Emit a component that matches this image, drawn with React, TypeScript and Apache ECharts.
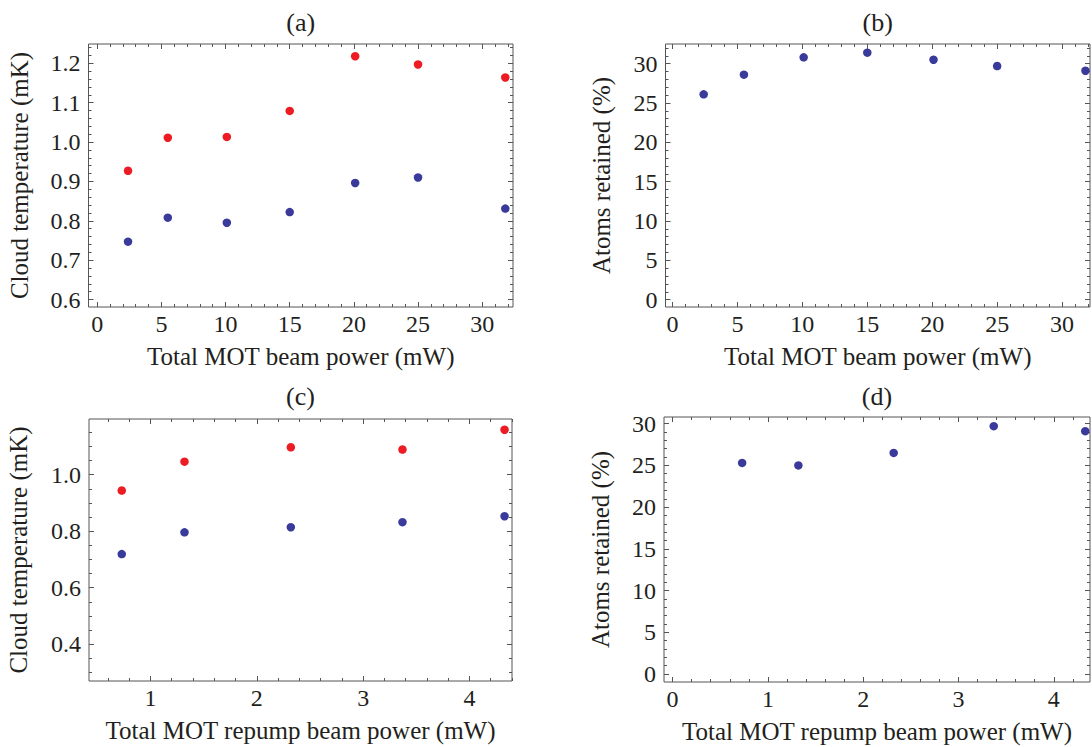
import React, { useEffect, useRef } from "react";
import * as echarts from "echarts";

// ---------- data ----------
const beamPower = [2.4, 5.5, 10.1, 15.0, 20.1, 25.0, 31.8];
const tempHotA = [0.927, 1.011, 1.013, 1.079, 1.218, 1.197, 1.164];
const tempColdA = [0.747, 0.808, 0.795, 0.822, 0.896, 0.91, 0.831];
const retainedB = [26.1, 28.6, 30.8, 31.4, 30.5, 29.7, 29.1];

const repumpPower = [0.73, 1.32, 2.32, 3.37, 4.33];
const tempHotC = [0.944, 1.046, 1.097, 1.089, 1.159];
const tempColdC = [0.719, 0.796, 0.814, 0.832, 0.853];
const retainedD = [25.3, 25.0, 26.5, 29.7, 29.1];

// ---------- tick labels ----------
const beamTicks = [0, 5, 10, 15, 20, 25, 30];
const tempTicksA = [0.6, 0.7, 0.8, 0.9, 1.0, 1.1, 1.2];
const retainedTicks = [0, 5, 10, 15, 20, 25, 30];
const repumpTicksC = [1, 2, 3, 4];
const repumpTicksD = [0, 1, 2, 3, 4];
const tempTicksC = [0.4, 0.6, 0.8, 1.0];

const panelTitles = ["(a)", "(b)", "(c)", "(d)"];
const xNames = [
  "Total MOT beam power (mW)",
  "Total MOT beam power (mW)",
  "Total MOT repump beam power (mW)",
  "Total MOT repump beam power (mW)",
];
const yNames = [
  "Cloud temperature (mK)",
  "Atoms retained (%)",
  "Cloud temperature (mK)",
  "Atoms retained (%)",
];

function steps(start: number, end: number, step: number): number[] {
  const out: number[] = [];
  const n = Math.round((end - start) / step);
  for (let i = 0; i <= n; i++) out.push(Math.round((start + i * step) * 1000) / 1000);
  return out;
}

const FONT = "'Liberation Serif', 'DejaVu Serif', serif";
const TEXT = "#231f20";
const FRAME = "#555555";
const RED = "#ed1c24";
const BLUE = "#3a3a9a";
const FS_TICK = 24;
const FS_NAME = 25;
const FS_TITLE = 26;

const grids = [
  { left: 88.5, top: 44, width: 424.5, height: 263 },
  { left: 665.5, top: 44, width: 424.5, height: 263 },
  { left: 89, top: 419, width: 423, height: 262 },
  { left: 664, top: 417, width: 426, height: 265 },
];

const xRanges = [
  [-0.68, 32.4],
  [-0.54, 32.15],
  [0.422, 4.4],
  [-0.09, 4.38],
];
const yRanges = [
  [0.581, 1.249],
  [-0.93, 32.5],
  [0.27, 1.197],
  [-0.96, 30.8],
];

const xMajor = [beamTicks, beamTicks, repumpTicksC, repumpTicksD];
const xMinor = [steps(0, 32, 1), steps(0, 32, 1), steps(0.6, 4.4, 0.2), steps(0, 4.2, 0.2)];
const yMajor = [tempTicksA, retainedTicks, tempTicksC, retainedTicks];
const yMinor = [steps(0.6, 1.24, 0.02), steps(0, 32, 1), steps(0.3, 1.15, 0.05), steps(0, 30, 1)];
const yFmt = [
  (v: number) => v.toFixed(1),
  (v: number) => String(v),
  (v: number) => v.toFixed(1),
  (v: number) => String(v),
];
const yNameGap = [57, 52, 58, 51];

function makeAxes(
  isX: boolean,
  gridIndex: number,
  range: number[],
  major: number[],
  minor: number[],
  fmt: (v: number) => string,
  name: string,
  nameGap: number
) {
  const mainPos = isX ? "bottom" : "left";
  const otherPos = isX ? "top" : "right";
  const base = {
    type: "value",
    gridIndex,
    min: range[0],
    max: range[1],
    axisLine: { show: false, onZero: false },
    splitLine: { show: false },
    minorTick: { show: false },
  };
  const tick = (vals: number[], len: number) => ({
    show: true,
    inside: true,
    length: len,
    customValues: vals,
    lineStyle: { color: FRAME, width: 1 },
  });
  return [
    {
      ...base,
      position: mainPos,
      axisTick: tick(major, 5),
      axisLabel: {
        show: true,
        customValues: major,
        formatter: (v: number) => fmt(v),
        margin: isX ? 5 : 8,
        fontFamily: FONT,
        fontSize: FS_TICK,
        color: TEXT,
      },
      name,
      nameLocation: "middle",
      nameGap,
      nameTextStyle: { fontFamily: FONT, fontSize: FS_NAME, color: TEXT },
    },
    { ...base, position: mainPos, axisTick: tick(minor, 3), axisLabel: { show: false } },
    { ...base, position: otherPos, axisTick: tick(major, 5), axisLabel: { show: false } },
    { ...base, position: otherPos, axisTick: tick(minor, 3), axisLabel: { show: false } },
  ];
}

export default function App() {
  const ref = useRef<HTMLDivElement>(null);
  useEffect(() => {
    if (!ref.current) return;
    const chart = echarts.init(ref.current, undefined, { renderer: "svg" });
    const xAxis: any[] = [];
    const yAxis: any[] = [];
    for (let g = 0; g < 4; g++) {
      xAxis.push(...makeAxes(true, g, xRanges[g], xMajor[g], xMinor[g], (v) => String(v), xNames[g], 37));
      yAxis.push(...makeAxes(false, g, yRanges[g], yMajor[g], yMinor[g], yFmt[g], yNames[g], yNameGap[g]));
    }
    const pts = (xs: number[], ys: number[]) => xs.map((x, i) => [x, ys[i]]);
    const sc = (g: number, data: number[][], color: string) => ({
      type: "scatter",
      xAxisIndex: g * 4,
      yAxisIndex: g * 4,
      data,
      symbol: "circle",
      symbolSize: 8.5,
      itemStyle: { color, opacity: 1 },
      silent: true,
    });
    const centers = grids.map((gr) => ({ x: gr.left + gr.width / 2, y: gr.top }));
    chart.setOption({
      animation: false,
      backgroundColor: "#ffffff",
      grid: grids.map((gr) => ({ ...gr, show: true, borderColor: FRAME, borderWidth: 1, backgroundColor: "transparent" })),
      xAxis,
      yAxis,
      series: [
        sc(0, pts(beamPower, tempHotA), RED),
        sc(0, pts(beamPower, tempColdA), BLUE),
        sc(1, pts(beamPower, retainedB), BLUE),
        sc(2, pts(repumpPower, tempHotC), RED),
        sc(2, pts(repumpPower, tempColdC), BLUE),
        sc(3, pts(repumpPower, retainedD), BLUE),
      ],
      graphic: panelTitles.map((t, i) => ({
        type: "text",
        x: centers[i].x,
        y: i < 2 ? 22 : 396,
        style: {
          text: t,
          fontFamily: FONT,
          fontSize: FS_TITLE,
          fill: TEXT,
          align: "center",
          verticalAlign: "middle",
        },
      })),
    });
    return () => chart.dispose();
  }, []);
  return (
    <div
      ref={ref}
      style={{ position: "fixed", left: 0, top: 0, width: 1092, height: 747, background: "#fff" }}
    />
  );
}
